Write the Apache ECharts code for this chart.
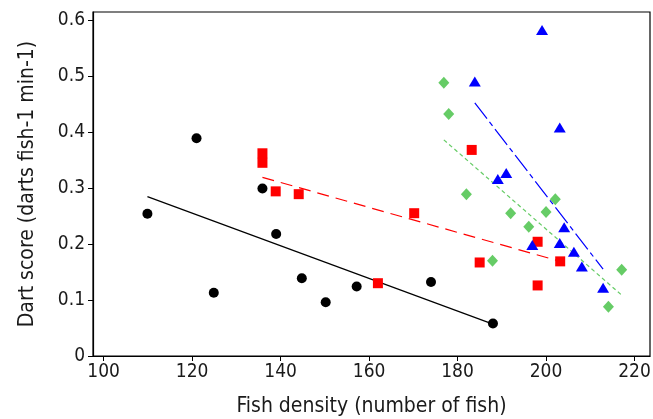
<!DOCTYPE html>
<html><head><meta charset="utf-8">
<script src="https://cdn.jsdelivr.net/npm/echarts@6/dist/echarts.min.js"></script>
<style>html,body{margin:0;padding:0;background:#fff}#c{width:653px;height:419px}</style>
</head><body><div id="c"></div>
<script>
// Data
const blackX = [109.9, 121.0, 124.9, 135.9, 139.0, 144.8, 150.2, 157.2, 174.0, 188.0];
const blackY = [0.254, 0.389, 0.113, 0.299, 0.218, 0.139, 0.096, 0.124, 0.132, 0.058];
const redX = [135.9, 135.9, 138.9, 144.1, 162.0, 170.2, 183.2, 185.0, 198.1, 198.1, 203.2];
const redY = [0.362, 0.345, 0.294, 0.289, 0.130, 0.255, 0.368, 0.167, 0.204, 0.126, 0.169];
const greenX = [176.9, 178.0, 182.0, 187.9, 192.0, 196.1, 200.0, 202.1, 214.1, 217.1];
const greenY = [0.488, 0.432, 0.289, 0.170, 0.255, 0.231, 0.257, 0.280, 0.088, 0.154];
const blueX = [183.9, 189.1, 191.0, 196.9, 199.1, 203.1, 203.1, 204.1, 206.3, 208.1, 212.9];
const blueY = [0.490, 0.316, 0.327, 0.198, 0.582, 0.408, 0.202, 0.230, 0.186, 0.160, 0.122];
// Fitted line endpoints
const blackFitX = [109.9, 188.0], blackFitY = [0.2845, 0.057];
const redFitX = [135.9, 203.2], redFitY = [0.319, 0.169];
const greenFitX = [176.9, 217.2], greenFitY = [0.386, 0.108];
const blueFitX = [183.9, 212.9], blueFitY = [0.452, 0.155];
const xTicks = [100, 120, 140, 160, 180, 200, 220];
const yTicks = [0, 0.1, 0.2, 0.3, 0.4, 0.5, 0.6];

const zip = (a, b) => a.map((v, i) => [v, b[i]]);
const FONT = '"DejaVu Sans Condensed", "DejaVu Sans", sans-serif';
const TXT = '#1a1a1a';
const chart = echarts.init(document.getElementById('c'), null, {renderer: 'canvas'});
function scatter(x, y, color, symbol, size) {
  return {type: 'scatter', data: zip(x, y), symbol: symbol, symbolSize: size,
    itemStyle: {color: color, opacity: 1}, z: 5, silent: true};
}
function fit(x, y, color, dash, w) {
  return {type: 'line', data: zip(x, y), symbol: 'none', z: 3, silent: true,
    lineStyle: {color: color, width: w, type: dash}};
}
chart.setOption({
  animation: false,
  grid: {left: 93, right: 3, top: 12, bottom: 63, show: true, borderColor: '#000', borderWidth: 1.2,
    containLabel: false, outerBoundsMode: 'none'},
  xAxis: {
    type: 'value', min: 97.6, max: 223.5, interval: 20,
    name: 'Fish density (number of fish)', nameLocation: 'middle', nameGap: 40,
    nameTextStyle: {fontFamily: FONT, fontSize: 21, color: TXT},
    axisLine: {show: true, onZero: false, lineStyle: {color: '#000', width: 1.2}},
    axisTick: {show: true, length: 5, lineStyle: {color: '#000'}, customValues: xTicks},
    axisLabel: {fontFamily: FONT, fontSize: 19, color: TXT, margin: 7, customValues: xTicks,
      showMinLabel: true, showMaxLabel: true},
    splitLine: {show: false}
  },
  yAxis: {
    type: 'value', min: 0, max: 0.6143, interval: 0.1,
    name: 'Dart score (darts fish-1 min-1)', nameLocation: 'middle', nameGap: 55,
    nameTextStyle: {fontFamily: FONT, fontSize: 21, color: TXT},
    axisLine: {show: true, onZero: false, lineStyle: {color: '#000', width: 1.2}},
    axisTick: {show: true, length: 5, lineStyle: {color: '#000'}, customValues: yTicks},
    axisLabel: {fontFamily: FONT, fontSize: 19, color: TXT, margin: 8, customValues: yTicks,
      formatter: v => String(Math.round(v * 10) / 10)},
    splitLine: {show: false}
  },
  series: [
    fit(blackFitX, blackFitY, '#000000', 'solid', 1.2),
    fit(redFitX, redFitY, '#ff0000', [12, 7], 1.2),
    fit(greenFitX, greenFitY, '#66cc66', [4, 3], 1.2),
    fit(blueFitX, blueFitY, '#0000ff', [20, 4, 5, 4], 1.2),
    scatter(blackX, blackY, '#000000', 'circle', 10),
    scatter(redX, redY, '#ff0000', 'rect', 10),
    scatter(greenX, greenY, '#66cc66', 'diamond', [11, 12]),
    scatter(blueX, blueY, '#0000ff', 'triangle', [12, 10])
  ]
});
</script></body></html>
